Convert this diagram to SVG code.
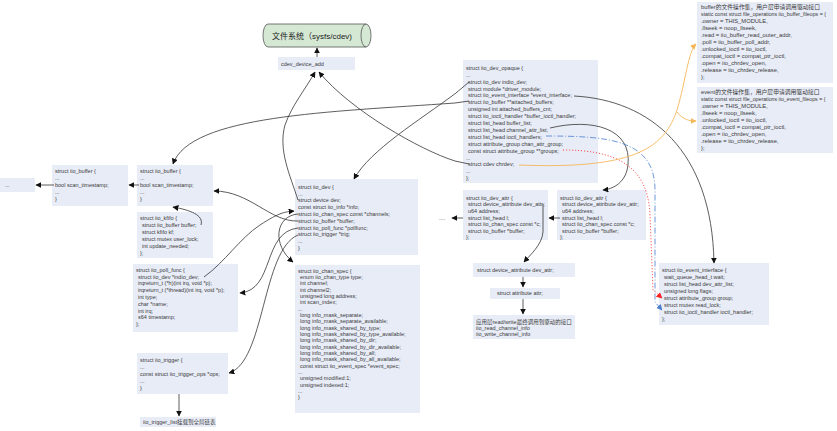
<svg xmlns="http://www.w3.org/2000/svg" width="837" height="431" viewBox="0 0 837 431">
<style>
.b{fill:#e8ecf7;stroke:none}
.t{font-family:"Liberation Sans","Noto Sans CJK SC",sans-serif;font-size:5.5px;fill:#3a3a3a}
.f{font-family:"Liberation Sans","Noto Sans CJK SC",sans-serif;font-size:5.8px;fill:#3a3a3a}
.s{font-family:"Liberation Sans",sans-serif;font-size:5.25px;fill:#3a3a3a}
.c{fill:none;stroke:#333;stroke-width:0.8}
</style>
<defs>
<marker id="a" viewBox="0 0 10 10" refX="9" refY="5" markerWidth="6" markerHeight="6" orient="auto" markerUnits="userSpaceOnUse"><path d="M0,0 L10,5 L0,10 z" fill="#111"/></marker>
<marker id="ar" viewBox="0 0 10 10" refX="9" refY="5" markerWidth="6" markerHeight="6" orient="auto" markerUnits="userSpaceOnUse"><path d="M0,0 L10,5 L0,10 z" fill="#ff2222"/></marker>
<marker id="ab" viewBox="0 0 10 10" refX="9" refY="5" markerWidth="6" markerHeight="6" orient="auto" markerUnits="userSpaceOnUse"><path d="M0,0 L10,5 L0,10 z" fill="#4a7fd0"/></marker>
<marker id="ao" viewBox="0 0 10 10" refX="9" refY="5" markerWidth="6" markerHeight="6" orient="auto" markerUnits="userSpaceOnUse"><path d="M0,0 L10,5 L0,10 z" fill="#f5b75a"/></marker>
</defs>

<g id="fs">
<path d="M268,24 L366,24 A5,11.5 0 0 1 366,47 L268,47 A5,11.5 0 0 1 268,24 Z" fill="#d5e8d4" stroke="#555" stroke-width="0.8"/>
<path d="M366,24 A5,11.5 0 0 0 366,47" fill="none" stroke="#555" stroke-width="0.8"/>
<text x="312" y="38.5" text-anchor="middle" style="font-family:'Liberation Sans','Noto Sans CJK SC',sans-serif;font-size:8px;fill:#222">文件系统（sysfs/cdev)</text>
</g>

<g id="cdev_device_add">
<rect class="b" x="278" y="57" width="77" height="13"/>
<text class="t" x="281" y="65.5">cdev_device_add</text>
</g>

<g id="iio_dev_opaque">
<rect class="b" x="463" y="60" width="135" height="123"/>
<text class="t" x="466" y="69.8">struct iio_dev_opaque {<tspan x="466" dy="6.9">...</tspan><tspan x="468" dy="6.9">struct iio_dev indio_dev;</tspan><tspan x="468" dy="6.9">struct module *driver_module;</tspan><tspan x="468" dy="6.9">struct iio_event_interface *event_interface;</tspan><tspan x="468" dy="6.9">struct iio_buffer **attached_buffers;</tspan><tspan x="468" dy="6.9">unsigned int attached_buffers_cnt;</tspan><tspan x="468" dy="6.9">struct iio_ioctl_handler *buffer_ioctl_handler;</tspan><tspan x="468" dy="6.9">struct list_head buffer_list;</tspan><tspan x="468" dy="6.9">struct list_head channel_attr_list;</tspan><tspan x="468" dy="6.9">struct list_head ioctl_handlers;</tspan><tspan x="468" dy="6.9">struct attribute_group chan_attr_group;</tspan><tspan x="468" dy="6.9">const struct attribute_group **groups;</tspan><tspan x="466" dy="6.9">...</tspan><tspan x="468" dy="6.9">struct cdev chrdev;</tspan><tspan x="466" dy="6.9">...</tspan><tspan x="466" dy="6.9">};</tspan></text>
</g>

<g id="buffer_fileops">
<rect class="b" x="697" y="2" width="136" height="81"/>
<text class="f" x="701" y="9">buffer的文件操作集，用户层申请调用驱动接口</text>
<text class="s" x="701" y="16">static const struct file_operations iio_buffer_fileops = {</text>
<text class="f" x="701" y="23">.owner = THIS_MODULE,<tspan x="701" dy="7">.llseek = noop_llseek,</tspan><tspan x="701" dy="7">.read = iio_buffer_read_outer_addr,</tspan><tspan x="701" dy="7">.poll = iio_buffer_poll_addr,</tspan><tspan x="701" dy="7">.unlocked_ioctl = iio_ioctl,</tspan><tspan x="701" dy="7">.compat_ioctl = compat_ptr_ioctl,</tspan><tspan x="701" dy="7">.open = iio_chrdev_open,</tspan><tspan x="701" dy="7">.release = iio_chrdev_release,</tspan><tspan x="701" dy="7">};</tspan></text>
</g>

<g id="event_fileops">
<rect class="b" x="697" y="87" width="136" height="66"/>
<text class="f" x="701" y="94">event的文件操作集，用户层申请调用驱动接口</text>
<text class="s" x="701" y="101">static const struct file_operations iio_event_fileops = {</text>
<text class="f" x="701" y="108">.owner = THIS_MODULE,<tspan x="701" dy="7">.llseek = noop_llseek,</tspan><tspan x="701" dy="7">.unlocked_ioctl = iio_ioctl,</tspan><tspan x="701" dy="7">.compat_ioctl = compat_ptr_ioctl,</tspan><tspan x="701" dy="7">.open = iio_chrdev_open,</tspan><tspan x="701" dy="7">.release = iio_chrdev_release,</tspan><tspan x="701" dy="7">};</tspan></text>
</g>

<g id="dots_left">
<rect class="b" x="0" y="178" width="35" height="14"/>
<text class="t" x="5" y="186.5">...</text>
</g>

<g id="iio_buffer_left">
<rect class="b" x="52" y="165" width="76" height="41"/>
<text class="t" x="55" y="172.8">struct iio_buffer {<tspan x="55" dy="7">...</tspan><tspan x="55" dy="7">bool scan_timestamp;</tspan><tspan x="55" dy="7">...</tspan><tspan x="55" dy="7">}</tspan></text>
</g>

<g id="iio_buffer">
<rect class="b" x="137" y="165" width="76" height="41"/>
<text class="t" x="140" y="172.8">struct iio_buffer {<tspan x="140" dy="7">...</tspan><tspan x="140" dy="7">bool scan_timestamp;</tspan><tspan x="140" dy="7">...</tspan><tspan x="140" dy="7">}</tspan></text>
</g>

<g id="iio_kfifo">
<rect class="b" x="137" y="212" width="76" height="46"/>
<text class="t" x="140" y="219.8">struct iio_kfifo {<tspan x="142" dy="7">struct iio_buffer buffer;</tspan><tspan x="142" dy="7">struct kfifo kf;</tspan><tspan x="142" dy="7">struct mutex user_lock;</tspan><tspan x="142" dy="7">int update_needed;</tspan><tspan x="140" dy="7">};</tspan></text>
</g>

<g id="iio_poll_func">
<rect class="b" x="133" y="264" width="105" height="68"/>
<text class="t" x="136" y="271.8">struct iio_poll_func {<tspan x="138" dy="6.8">struct iio_dev *indio_dev;</tspan><tspan x="138" dy="6.8">irqreturn_t (*h)(int irq, void *p);</tspan><tspan x="138" dy="6.8">irqreturn_t (*thread)(int irq, void *p);</tspan><tspan x="138" dy="6.8">int type;</tspan><tspan x="138" dy="6.8">char *name;</tspan><tspan x="138" dy="6.8">int irq;</tspan><tspan x="138" dy="6.8">s64 timestamp;</tspan><tspan x="136" dy="6.8">};</tspan></text>
</g>

<g id="iio_trigger">
<rect class="b" x="137" y="353" width="91" height="41"/>
<text class="t" x="140" y="361.8">struct iio_trigger {<tspan x="140" dy="7">...</tspan><tspan x="140" dy="7">const struct iio_trigger_ops *ops;</tspan><tspan x="140" dy="7">...</tspan><tspan x="140" dy="7">}</tspan></text>
</g>

<g id="trigger_list">
<rect class="b" x="140" y="417" width="76" height="10"/>
<text class="t" x="143" y="423.8">iio_trigger_list挂载到全局链表</text>
</g>

<g id="iio_dev">
<rect class="b" x="295" y="179" width="123" height="76"/>
<text class="t" x="298" y="188.8">struct iio_dev {<tspan x="298" dy="6.8">...</tspan><tspan x="298" dy="6.8">struct device dev;</tspan><tspan x="298" dy="6.8">const struct iio_info *info;</tspan><tspan x="298" dy="6.8">struct iio_chan_spec const *channels;</tspan><tspan x="298" dy="6.8">struct iio_buffer *buffer;</tspan><tspan x="298" dy="6.8">struct iio_poll_func *pollfunc;</tspan><tspan x="298" dy="6.8">struct iio_trigger *trig;</tspan><tspan x="298" dy="6.8">...</tspan><tspan x="298" dy="6.8">}</tspan></text>
</g>

<g id="iio_chan_spec">
<rect class="b" x="295" y="265" width="125" height="148"/>
<text class="t" x="298" y="272.8">struct iio_chan_spec {<tspan x="300" dy="6.33">enum iio_chan_type type;</tspan><tspan x="300" dy="6.33">int channel;</tspan><tspan x="300" dy="6.33">int channel2;</tspan><tspan x="300" dy="6.33">unsigned long address;</tspan><tspan x="300" dy="6.33">int scan_index;</tspan><tspan x="298" dy="6.33">...</tspan><tspan x="300" dy="6.33">long info_mask_separate;</tspan><tspan x="300" dy="6.33">long info_mask_separate_available;</tspan><tspan x="300" dy="6.33">long info_mask_shared_by_type;</tspan><tspan x="300" dy="6.33">long info_mask_shared_by_type_available;</tspan><tspan x="300" dy="6.33">long info_mask_shared_by_dir;</tspan><tspan x="300" dy="6.33">long info_mask_shared_by_dir_available;</tspan><tspan x="300" dy="6.33">long info_mask_shared_by_all;</tspan><tspan x="300" dy="6.33">long info_mask_shared_by_all_available;</tspan><tspan x="300" dy="6.33">const struct iio_event_spec *event_spec;</tspan><tspan x="298" dy="6.33">...</tspan><tspan x="300" dy="6.33">unsigned modified:1;</tspan><tspan x="300" dy="6.33">unsigned indexed:1;</tspan><tspan x="298" dy="6.33">...</tspan><tspan x="298" dy="6.33">}</tspan></text>
</g>

<g id="dots_attr">
<text class="t" x="439" y="219.8">....</text>
</g>

<g id="iio_dev_attr_left">
<rect class="b" x="463" y="190" width="85" height="50"/>
<text class="t" x="466" y="199.8">struct iio_dev_attr {<tspan x="468" dy="6.6">struct device_attribute dev_attr;</tspan><tspan x="468" dy="6.6">u64 address;</tspan><tspan x="468" dy="6.6">struct list_head l;</tspan><tspan x="468" dy="6.6">struct iio_chan_spec const *c;</tspan><tspan x="468" dy="6.6">struct iio_buffer *buffer;</tspan><tspan x="466" dy="6.6">};</tspan></text>
</g>

<g id="iio_dev_attr_right">
<rect class="b" x="557" y="190" width="89" height="50"/>
<text class="t" x="560" y="199.8">struct iio_dev_attr {<tspan x="562" dy="6.6">struct device_attribute dev_attr;</tspan><tspan x="562" dy="6.6">u64 address;</tspan><tspan x="562" dy="6.6">struct list_head l;</tspan><tspan x="562" dy="6.6">struct iio_chan_spec const *c;</tspan><tspan x="562" dy="6.6">struct iio_buffer *buffer;</tspan><tspan x="560" dy="6.6">};</tspan></text>
</g>

<g id="device_attribute">
<rect class="b" x="473" y="263" width="102" height="14"/>
<text class="t" x="477" y="271.8">struct device_attribute dev_attr;</text>
</g>

<g id="attribute">
<rect class="b" x="490" y="288" width="70" height="11"/>
<text class="t" x="497" y="295.3">struct attribute attr;</text>
</g>

<g id="rw_info">
<rect class="b" x="473" y="315" width="102" height="24"/>
<text class="t" x="476" y="323.8">应用层read/write最终调用到驱动的接口<tspan x="476" dy="6">iio_read_channel_info</tspan><tspan x="476" dy="6">iio_write_channel_info</tspan></text>
</g>

<g id="iio_event_interface">
<rect class="b" x="659" y="263" width="110" height="62"/>
<text class="t" x="662" y="271.8">struct iio_event_interface {<tspan x="664" dy="7">wait_queue_head_t wait;</tspan><tspan x="664" dy="7">struct list_head dev_attr_list;</tspan><tspan x="664" dy="7">unsigned long flags;</tspan><tspan x="664" dy="7">struct attribute_group group;</tspan><tspan x="664" dy="7">struct mutex read_lock;</tspan><tspan x="664" dy="7">struct iio_ioctl_handler ioctl_handler;</tspan><tspan x="662" dy="7">};</tspan></text>
</g>

<g id="connectors">
<path class="c" d="M317,57 L317,48" marker-end="url(#a)"/>
<path class="c" d="M298,200 C290,175 278,150 285,125 C292,105 305,90 315,72" marker-end="url(#a)"/>
<path class="c" d="M469,164 L455,161 C420,150 350,110 319,72" marker-end="url(#a)"/>
<path class="c" d="M469,82 L456,93 C420,120 370,150 354,179" marker-end="url(#a)"/>
<path class="c" d="M469,101 L455,103 C330,112 190,115 173,164" marker-end="url(#a)"/>
<path class="c" d="M54,185 L36,185" marker-end="url(#a)"/>
<path class="c" d="M139,185 L129,185" marker-end="url(#a)"/>
<path class="c" d="M201,225 C204,215 190,210 173,207" marker-end="url(#a)"/>
<path class="c" d="M298,221 C270,222 250,191 214,191" marker-end="url(#a)"/>
<path class="c" d="M298,214 C275,216 272,245 293,262" marker-end="url(#a)"/>
<path class="c" d="M298,228 C262,232 275,290 240,293" marker-end="url(#a)"/>
<path class="c" d="M298,235 C262,250 265,362 229,373" marker-end="url(#a)"/>
<path class="c" d="M204,277 C225,262 240,238 260,225 S285,212 294,211" marker-end="url(#a)"/>
<path class="c" d="M179,394 L179,416" marker-end="url(#a)"/>
<path class="c" d="M574,96 C650,100 712,150 714,263" marker-end="url(#a)"/>
<path class="c" d="M550,128 C592,118 632,128 628,165 C626,182 614,189 603,190" marker-end="url(#a)"/>
<path class="c" d="M560,218 L549,218" marker-end="url(#a)"/>
<path class="c" d="M463,218 L452,218" marker-end="url(#a)"/>
<path class="c" d="M543,204 L543,232 C542,245 530,255 524,262" marker-end="url(#a)"/>
<path class="c" d="M523,277 L523,287" marker-end="url(#a)"/>
<path class="c" d="M523,299 L523,314" marker-end="url(#a)"/>
<path d="M546,136 C610,136 655,140 655,190 L655,302 L662,310" fill="none" stroke="#4a7fd0" stroke-width="0.8" stroke-dasharray="6 2 1 2" marker-end="url(#ab)"/>
<path d="M563,150 C615,150 648,165 650,215 L653,290 L662,298" fill="none" stroke="#ff2222" stroke-width="0.9" stroke-dasharray="1 2" marker-end="url(#ar)"/>
<path d="M519,165 C640,170 665,145 677,110 C686,80 688,52 696,44" fill="none" stroke="#f5b75a" stroke-width="0.9" marker-end="url(#ao)"/>
<path d="M677,112 C683,120 690,121 696,121" fill="none" stroke="#f5b75a" stroke-width="0.9" marker-end="url(#ao)"/>
</g>
</svg>
